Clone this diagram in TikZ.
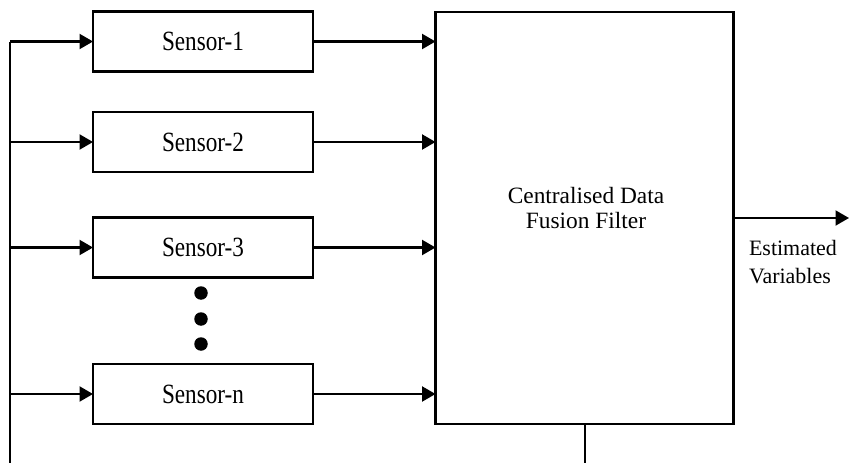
\documentclass[tikz,border=0pt]{standalone}
\usepackage{fontspec}
\setmainfont{Liberation Serif}
\usetikzlibrary{positioning,arrows.meta}
\newcommand{\tallname}[1]{\scalebox{1}[1.2]{#1}}

\begin{document}
\begin{tikzpicture}[x=0.02cm,y=-0.02cm,line width=1.2pt,
    >={Triangle[length=0.27cm,width=0.3cm]},
    sensorbox/.style={draw,minimum width=4.4cm,minimum height=1.2cm,outer sep=0pt,
      font=\fontsize{13.2}{15}\selectfont},
    fusebox/.style={draw,minimum width=5.96cm,minimum height=8.24cm,outer sep=0pt},
    fusetext/.style={align=center,inner sep=0pt,font=\fontsize{13.3}{14.2}\selectfont},
    dot/.style={fill,circle,inner sep=0pt,minimum size=0.27cm}]
    \useasboundingbox (0,0) rectangle (849,463);

    \node[sensorbox] (s1) at (203,41.5)  {\tallname{Sensor-1}};
    \node[sensorbox] (s2) at (203,142)   {\tallname{Sensor-2}};
    \node[sensorbox] (s3) at (203,247.5) {\tallname{Sensor-3}};
    \node[sensorbox] (sn) at (203,394)   {\tallname{Sensor-n}};
    \node[fusebox]   (fuse) at (584.5,218) {};
    \node[fusetext]  (fusename) at (586,208) {Centralised Data\\Fusion Filter};

    % dots between sensor-3 and sensor-n
    \node[dot] (d1) at (201,293) {};
    \node[dot] (d2) at (201,319) {};
    \node[dot] (d3) at (201,344) {};

    % common input line
    \coordinate (bustop) at (10,41.5);
    \coordinate (busend) at (10,463);
    \draw (bustop) -- (busend);
    \foreach \s in {s1,s2,s3,sn}
      \draw[->] (\s.west -| bustop) -- (\s.west);

    % sensors to filter
    \foreach \s in {s1,s2,s3,sn}
      \draw[->] (\s.east) -- (\s.east -| fuse.west);

    % output and bottom line
    \coordinate (out) at (849,218);
    \coordinate (fb) at (585,463);
    \draw[->] (fuse.east |- out) -- (out);
    \draw (fuse.south -| fb) -- (fb);
    \node[anchor=north west,align=left,inner sep=0pt,
      font=\fontsize{12.5}{15.9}\selectfont] (est) at (748,239) {Estimated\\Variables};
\end{tikzpicture}
\end{document}
